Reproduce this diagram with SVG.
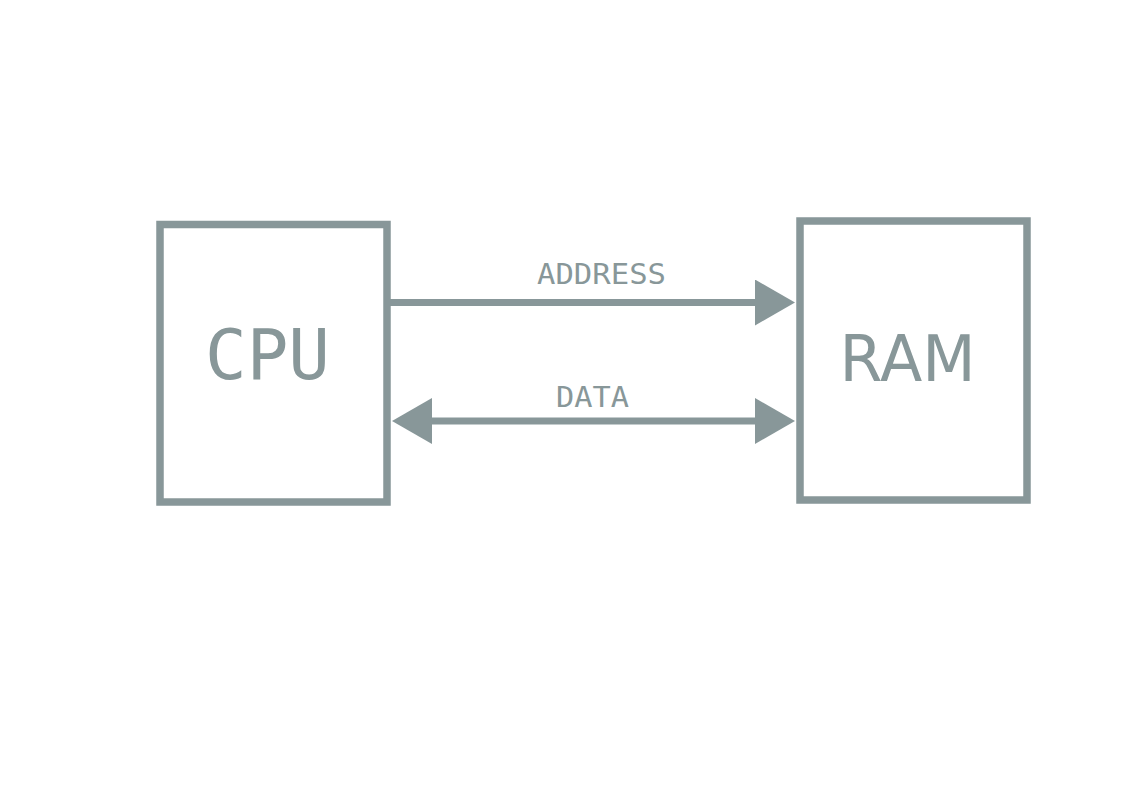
<svg xmlns="http://www.w3.org/2000/svg" width="1123" height="794" viewBox="0 0 1123 794">
<style>
.box{fill:#fff;stroke:#889799;stroke-width:7.5}
.wire{stroke:#889799;stroke-width:7;fill:none}
.mono{font-family:"DejaVu Sans Mono","Liberation Mono",monospace;fill:#889799}
.sans{font-family:"DejaVu Sans","Liberation Sans",sans-serif;fill:#889799}
</style>
<defs>
<marker id="ah" markerUnits="userSpaceOnUse" markerWidth="40" markerHeight="46" refX="5" refY="23" orient="auto-start-reverse" viewBox="0 0 40 46">
<path d="M0,0 L40,23 L0,46 Z" fill="#889799"/>
</marker>
</defs>
<rect width="1123" height="794" fill="#fff"/>
<g id="cpu">
<rect class="box" x="160" y="224.5" width="227" height="277.5"/>
<text class="mono" x="205" y="379" font-size="70" textLength="125" lengthAdjust="spacingAndGlyphs">CPU</text>
</g>
<g id="ram">
<rect class="box" x="800" y="221" width="227" height="279"/>
<text class="sans" x="907.5" y="381" font-size="64" text-anchor="middle" textLength="136" lengthAdjust="spacingAndGlyphs">RAM</text>
</g>
<g id="connectors">
<line class="wire" x1="390" y1="302.5" x2="760" y2="302.5" marker-end="url(#ah)"/>
<line class="wire" x1="427" y1="421" x2="760" y2="421" marker-start="url(#ah)" marker-end="url(#ah)"/>
<text class="mono" x="537" y="284" font-size="29" textLength="129" lengthAdjust="spacingAndGlyphs">ADDRESS</text>
<text class="mono" x="556" y="407" font-size="28" textLength="73" lengthAdjust="spacingAndGlyphs">DATA</text>
</g>
</svg>
